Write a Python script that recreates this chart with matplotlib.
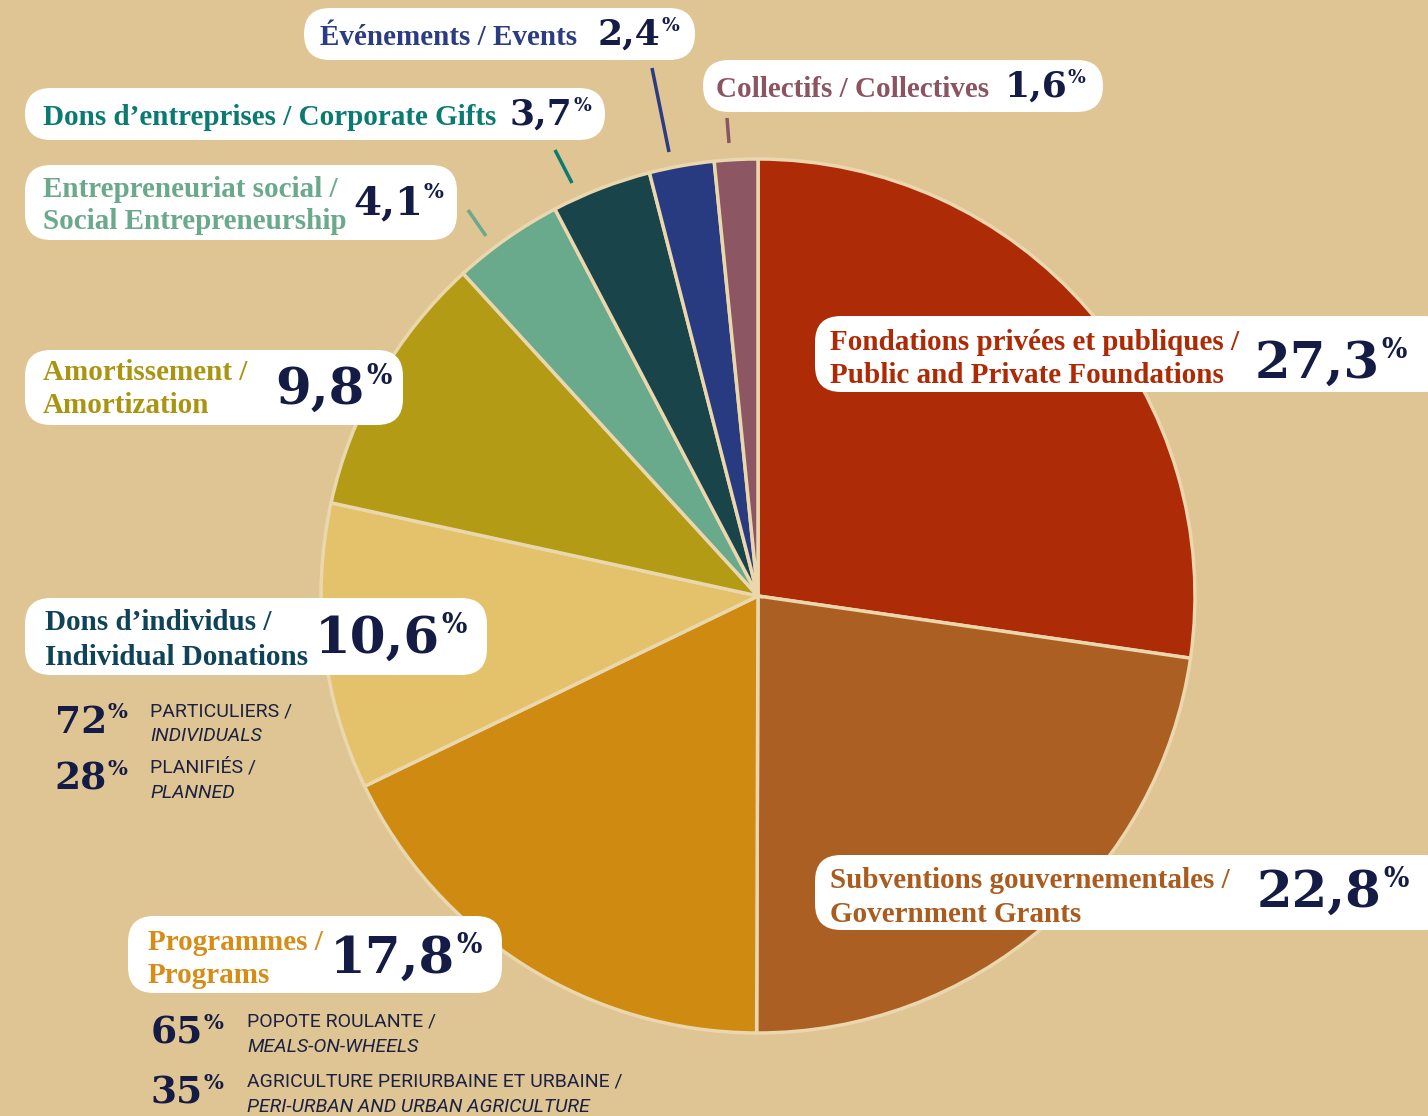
import matplotlib
matplotlib.use("Agg")
import matplotlib.pyplot as plt
from matplotlib.patches import FancyBboxPatch

# ---------------- data ----------------
categories = [
    "Fondations privées et publiques / Public and Private Foundations",
    "Subventions gouvernementales / Government Grants",
    "Programmes / Programs",
    "Dons d'individus / Individual Donations",
    "Amortissement / Amortization",
    "Entrepreneuriat social / Social Entrepreneurship",
    "Dons d'entreprises / Corporate Gifts",
    "Événements / Events",
    "Collectifs / Collectives",
]
values = [27.3, 22.8, 17.8, 10.6, 9.8, 4.1, 3.7, 2.4, 1.6]
value_labels = ["27,3", "22,8", "17,8", "10,6", "9,8", "4,1", "3,7", "2,4", "1,6"]
label_lines = [
    ["Fondations privées et publiques /", "Public and Private Foundations"],
    ["Subventions gouvernementales /", "Government Grants"],
    ["Programmes /", "Programs"],
    ["Dons d\u2019individus /", "Individual Donations"],
    ["Amortissement /", "Amortization"],
    ["Entrepreneuriat social /", "Social Entrepreneurship"],
    ["Dons d\u2019entreprises / Corporate Gifts"],
    ["Événements / Events"],
    ["Collectifs / Collectives"],
]
indiv_shares = ["72", "28"]
indiv_labels = [("PARTICULIERS /", "INDIVIDUALS"), ("PLANIFIÉS /", "PLANNED")]
prog_shares = ["65", "35"]
prog_labels = [("POPOTE ROULANTE /", "MEALS-ON-WHEELS"),
               ("AGRICULTURE PERIURBAINE ET URBAINE /", "PERI-URBAN AND URBAN AGRICULTURE")]

# ---------------- styles ----------------
slice_colors = ["#AD2B06", "#AB5F22", "#CF8A12", "#E4C26C", "#B39B15",
                "#69A98C", "#19444A", "#283B80", "#8C5662"]
text_colors = ["#AE2A05", "#AA5B1E", "#D58D17", "#0F4458", "#AA9512",
               "#6AA98C", "#0B7B72", "#2B3C80", "#8A5461"]
BG = "#DFC494"
NAVY = "#141C45"
SMALL = "#1A2142"
W, H = 1428, 1116

# layout (pixel coordinates, top-left origin)
layout = [
    dict(box=(815, 316, 1450, 392), tx=830, tb=[350, 383], nx=1380, nb=378, ns=37, ls=21),
    dict(box=(815, 855, 1450, 930), tx=830, tb=[888, 922], nx=1382, nb=907, ns=37, ls=21),
    dict(box=(128, 916, 502, 993), tx=148, tb=[950, 983], nx=455, nb=973, ns=37, ls=21),
    dict(box=(25, 598, 487, 675), tx=45, tb=[630, 665], nx=440, nb=653, ns=37, ls=21),
    dict(box=(25, 350, 403, 425), tx=43, tb=[380, 413], nx=365, nb=404, ns=37, ls=21),
    dict(box=(25, 165, 457, 240), tx=43, tb=[197, 229], nx=423, nb=214, ns=29, ls=21),
    dict(box=(25, 88, 605, 140), tx=43, tb=[125], nx=572, nb=125, ns=26, ls=21),
    dict(box=(304, 8, 695, 60), tx=320, tb=[45], nx=660, nb=45, ns=26, ls=21),
    dict(box=(703, 60, 1103, 112), tx=716, tb=[97], nx=1067, nb=97, ns=26, ls=21),
]
leaders = {
    7: ((652, 68), (669, 152)),
    8: ((727, 118), (729, 143)),
    6: ((555, 150), (572, 183)),
    5: ((468, 210), (486, 236)),
}

LABEL_FONT = ["Liberation Serif", "DejaVu Serif"]
NUM_FONT = ["DejaVu Serif"]
SANS = ["Roboto", "Open Sans", "DejaVu Sans"]


def Y(py):
    return H - py


fig = plt.figure(figsize=(W / 100, H / 100), dpi=100)
fig.patch.set_facecolor(BG)
ax = fig.add_axes([0, 0, 1, 1])
ax.set_facecolor(BG)

ax.pie(values, colors=slice_colors, startangle=90, counterclock=False,
       center=(758, Y(596)), radius=437,
       wedgeprops=dict(edgecolor="#EAD7AE", linewidth=2.5))
ax.set_xlim(0, W)
ax.set_ylim(0, H)
ax.set_aspect("auto")
ax.axis("off")

# leader lines
for i, ((x0, y0), (x1, y1)) in leaders.items():
    ax.plot([x0, x1], [Y(y0), Y(y1)], color=text_colors[i], lw=2.5,
            solid_capstyle="butt", zorder=3)

# label boxes
for i, lay in enumerate(layout):
    x0, y0, x1, y1 = lay["box"]
    hgt = y1 - y0
    r = min(26, hgt / 2)
    box = FancyBboxPatch((x0, Y(y1)), x1 - x0, hgt,
                         boxstyle=f"round,pad=0,rounding_size={r}",
                         facecolor="white", edgecolor="none", zorder=4)
    ax.add_patch(box)
    for line, b in zip(label_lines[i], lay["tb"]):
        ax.text(lay["tx"], Y(b), line, fontsize=lay["ls"], fontweight="bold",
                family=LABEL_FONT, color=text_colors[i], ha="left", va="baseline",
                zorder=5)
    ax.text(lay["nx"], Y(lay["nb"]), value_labels[i], fontsize=lay["ns"],
            fontweight="bold", family=NUM_FONT, color=NAVY, ha="right",
            va="baseline", zorder=5)
    ax.text(lay["nx"] + 1, Y(lay["nb"]) + lay["ns"] * 0.55, "%",
            fontsize=lay["ns"] * 0.52, fontweight="bold", family=NUM_FONT,
            color=NAVY, ha="left", va="baseline", zorder=5)


def breakdown(shares, labels, x_num_end, x_txt, num_bases):
    for s, (l1, l2), nb in zip(shares, labels, num_bases):
        ax.text(x_num_end, Y(nb), s, fontsize=27, fontweight="bold",
                family=NUM_FONT, color=NAVY, ha="right", va="baseline", zorder=5)
        ax.text(x_num_end + 1, Y(nb) + 15, "%", fontsize=15, fontweight="bold",
                family=NUM_FONT, color=NAVY, ha="left", va="baseline", zorder=5)
        ax.text(x_txt, Y(nb - 17), l1, fontsize=14, fontweight="normal",
                family=SANS, color=SMALL, ha="left", va="baseline", zorder=5)
        ax.text(x_txt, Y(nb + 8), l2, fontsize=14, fontweight="normal",
                style="italic", family=SANS, color=SMALL, ha="left",
                va="baseline", zorder=5)


breakdown(indiv_shares, indiv_labels, 107, 150, [733, 790])
breakdown(prog_shares, prog_labels, 203, 247, [1044, 1104])

fig.savefig("out.png", dpi=100, facecolor=BG)
